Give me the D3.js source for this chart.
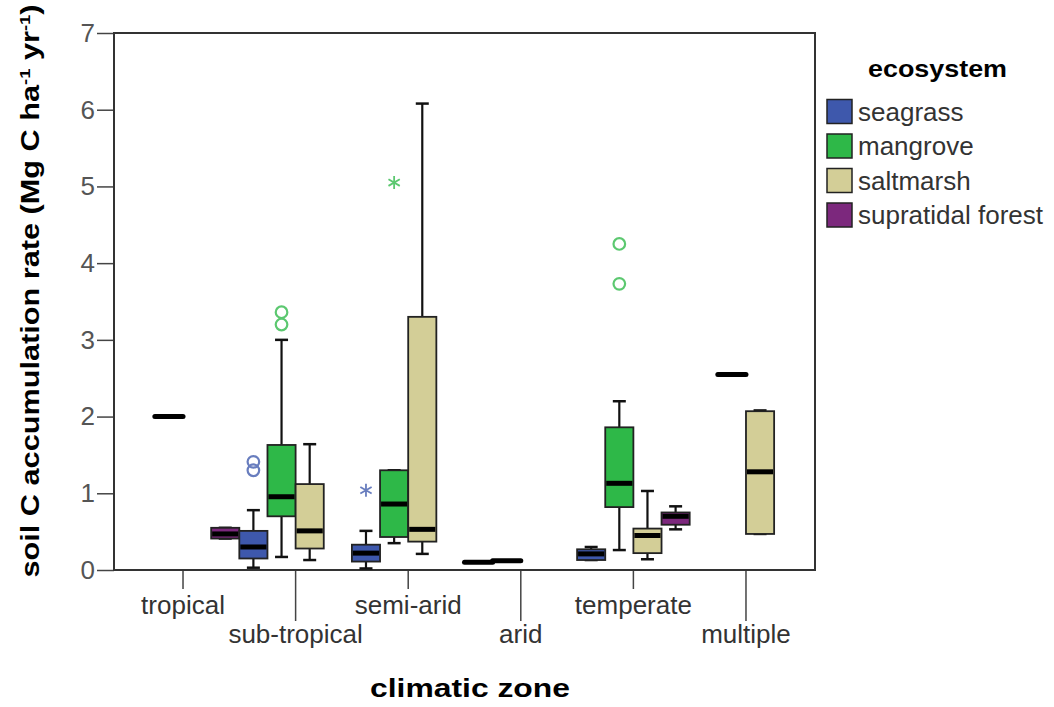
<!DOCTYPE html>
<html>
<head>
<meta charset="utf-8">
<script src="https://cdn.jsdelivr.net/npm/d3@7"></script>
<style>
  body { margin: 0; background: #fff; }
  svg { font-family: "Liberation Sans", Arial, sans-serif; }
</style>
</head>
<body>
<div id="container"></div>
<script>
/* DATA */
const zones = ["tropical", "sub-tropical", "semi-arid", "arid", "temperate", "multiple"];
const ecosystems = ["seagrass", "mangrove", "saltmarsh", "supratidal forest"];
const yTicks = [0, 1, 2, 3, 4, 5, 6, 7];

// box summaries: [zone, ecosystem, min, q1, median, q3, max]
const boxStats = [
  ["tropical", "supratidal forest", 0.41, 0.41, 0.47, 0.55, 0.55],
  ["sub-tropical", "seagrass", 0.03, 0.15, 0.30, 0.51, 0.78],
  ["sub-tropical", "mangrove", 0.17, 0.70, 0.955, 1.63, 3.00],
  ["sub-tropical", "saltmarsh", 0.13, 0.28, 0.51, 1.12, 1.64],
  ["semi-arid", "seagrass", 0.02, 0.11, 0.22, 0.33, 0.51],
  ["semi-arid", "mangrove", 0.35, 0.43, 0.86, 1.30, 1.30],
  ["semi-arid", "saltmarsh", 0.21, 0.37, 0.53, 3.30, 6.08],
  ["temperate", "seagrass", 0.13, 0.13, 0.21, 0.27, 0.30],
  ["temperate", "mangrove", 0.26, 0.82, 1.13, 1.86, 2.20],
  ["temperate", "saltmarsh", 0.14, 0.22, 0.45, 0.54, 1.03],
  ["temperate", "supratidal forest", 0.53, 0.59, 0.70, 0.75, 0.83],
  ["multiple", "saltmarsh", 0.47, 0.47, 1.28, 2.07, 2.08]
];

// groups with a single value: [zone, ecosystem, value]
const singles = [
  ["tropical", "mangrove", 2.00],
  ["arid", "seagrass", 0.10],
  ["arid", "mangrove", 0.12],
  ["multiple", "mangrove", 2.55]
];

// outliers: [zone, ecosystem, value, kind]
const outliers = [
  ["sub-tropical", "seagrass", 1.41, "o"],
  ["sub-tropical", "seagrass", 1.30, "o"],
  ["sub-tropical", "mangrove", 3.36, "o"],
  ["sub-tropical", "mangrove", 3.20, "o"],
  ["semi-arid", "seagrass", 1.04, "*"],
  ["semi-arid", "mangrove", 5.05, "*"],
  ["temperate", "mangrove", 4.25, "o"],
  ["temperate", "mangrove", 3.73, "o"]
];

/* CONSTANTS */
const width = 1054, height = 707;
const plot = { left: 114, right: 815, top: 33, bottom: 570 };

const colorScale = d3.scaleOrdinal()
  .domain(ecosystems)
  .range(["#3e58ac", "#2eb848", "#d3ce97", "#7c287d"]);

const svg = d3.select("#container")
  .append("svg")
  .attr("width", width)
  .attr("height", height);

/* SCALES */
const xScale = d3.scaleBand()
  .domain(zones)
  .range([plot.left, plot.right])
  .paddingInner(0)
  .paddingOuter(0.113);

const xEco = d3.scaleBand()
  .domain(ecosystems)
  .range([0, xScale.bandwidth()]);

const yScale = d3.scaleLinear()
  .domain([0, 7])
  .range([plot.bottom, plot.top]);

const boxX = (z, e) => xScale(z) + xEco(e);
const boxW = xEco.bandwidth();
const capW = 13;

/* AXES */
const yAxis = d3.axisLeft(yScale)
  .tickValues(yTicks)
  .tickSize(17)
  .tickPadding(2)
  .tickFormat(d3.format("d"));

svg.append("g")
  .attr("transform", `translate(${plot.left},0)`)
  .call(yAxis)
  .call(g => g.select(".domain").remove())
  .call(g => g.selectAll(".tick line").attr("stroke", "#444").attr("stroke-width", 1.5))
  .call(g => g.selectAll(".tick text")
    .attr("font-size", "26px")
    .attr("font-family", "Liberation Sans, Arial, sans-serif")
    .attr("fill", "#555"));

const xAxis = d3.axisBottom(xScale)
  .tickSize(0)
  .tickPadding(0);

svg.append("g")
  .attr("transform", `translate(0,${plot.bottom})`)
  .call(xAxis)
  .call(g => g.select(".domain").remove())
  .call(g => g.selectAll(".tick line")
    .attr("stroke", "#444")
    .attr("stroke-width", 1.5)
    .attr("y2", (d, i) => i % 2 === 0 ? 19 : 51))
  .call(g => g.selectAll(".tick text")
    .attr("dy", null)
    .attr("y", (d, i) => i % 2 === 0 ? 44 : 73)
    .attr("font-size", "26px")
    .attr("font-family", "Liberation Sans, Arial, sans-serif")
    .attr("fill", "#333"));

// plot frame
svg.append("rect")
  .attr("x", plot.left)
  .attr("y", plot.top)
  .attr("width", plot.right - plot.left)
  .attr("height", plot.bottom - plot.top)
  .attr("fill", "none")
  .attr("stroke", "#333")
  .attr("stroke-width", 2);

/* BOXES */
const boxes = svg.append("g").selectAll("g.box")
  .data(boxStats)
  .join("g")
  .attr("class", "box");

// whisker
boxes.append("line")
  .attr("x1", d => boxX(d[0], d[1]) + boxW / 2)
  .attr("x2", d => boxX(d[0], d[1]) + boxW / 2)
  .attr("y1", d => yScale(d[2]))
  .attr("y2", d => yScale(d[6]))
  .attr("stroke", "#111")
  .attr("stroke-width", 2.2);

// caps
boxes.selectAll("line.cap")
  .data(d => [[d, d[2]], [d, d[6]]])
  .join("line")
  .attr("class", "cap")
  .attr("x1", ([d]) => boxX(d[0], d[1]) + boxW / 2 - capW / 2)
  .attr("x2", ([d]) => boxX(d[0], d[1]) + boxW / 2 + capW / 2)
  .attr("y1", ([, v]) => yScale(v))
  .attr("y2", ([, v]) => yScale(v))
  .attr("stroke", "#111")
  .attr("stroke-width", 2.5);

boxes.append("rect")
  .attr("x", d => boxX(d[0], d[1]))
  .attr("y", d => yScale(d[5]))
  .attr("width", boxW)
  .attr("height", d => yScale(d[3]) - yScale(d[5]))
  .attr("fill", d => colorScale(d[1]))
  .attr("stroke", "#222")
  .attr("stroke-width", 1.8);

boxes.append("line")
  .attr("x1", d => boxX(d[0], d[1]) + 1)
  .attr("x2", d => boxX(d[0], d[1]) + boxW - 1)
  .attr("y1", d => yScale(d[4]))
  .attr("y2", d => yScale(d[4]))
  .attr("stroke", "#000")
  .attr("stroke-width", 5);

// single value groups
svg.append("g").selectAll("line")
  .data(singles)
  .join("line")
  .attr("x1", d => boxX(d[0], d[1]))
  .attr("x2", d => boxX(d[0], d[1]) + boxW)
  .attr("y1", d => yScale(d[2]))
  .attr("y2", d => yScale(d[2]))
  .attr("stroke", "#000")
  .attr("stroke-width", 5)
  .attr("stroke-linecap", "round");

/* OUTLIERS */
const star = d3.symbol().type(d3.symbolAsterisk).size(120);
const outlierColor = e => d3.interpolateRgb(colorScale(e), "#fff")(0.22);

svg.append("g").selectAll("path")
  .data(outliers)
  .join("path")
  .attr("transform", d => `translate(${boxX(d[0], d[1]) + boxW / 2},${yScale(d[2])})`)
  .attr("d", d => d[3] === "*" ? star() : d3.arc()({ innerRadius: 0, outerRadius: 5.8, startAngle: 0, endAngle: 2 * Math.PI }))
  .attr("fill", "none")
  .attr("stroke", d => outlierColor(d[1]))
  .attr("stroke-width", d => d[3] === "*" ? 1.8 : 2.2);

/* AXIS TITLES */
const yTitle = svg.append("text")
  .attr("transform", `translate(39,291) rotate(-90)`)
  .attr("text-anchor", "middle")
  .attr("font-size", "25px")
  .attr("font-weight", "bold")
  .attr("fill", "#000")
  .attr("textLength", 573)
  .attr("lengthAdjust", "spacingAndGlyphs");

yTitle.append("tspan").text("soil C accumulation rate (Mg C ha");
yTitle.append("tspan").attr("font-size", "15px").attr("baseline-shift", "9").text("-1");
yTitle.append("tspan").text(" yr");
yTitle.append("tspan").attr("font-size", "15px").attr("baseline-shift", "9").text("-1");
yTitle.append("tspan").text(")");

svg.append("text")
  .attr("x", 470)
  .attr("y", 697)
  .attr("text-anchor", "middle")
  .attr("font-size", "25px")
  .attr("font-weight", "bold")
  .attr("textLength", 200)
  .attr("lengthAdjust", "spacingAndGlyphs")
  .text("climatic zone");

/* LEGEND */
svg.append("text")
  .attr("x", 868)
  .attr("y", 77)
  .attr("font-size", "23px")
  .attr("font-weight", "bold")
  .attr("textLength", 139)
  .attr("lengthAdjust", "spacingAndGlyphs")
  .text("ecosystem");

const legend = svg.append("g").selectAll("g")
  .data(ecosystems)
  .join("g")
  .attr("transform", (d, i) => `translate(827,${99.5 + i * 34.5})`);

legend.append("rect")
  .attr("width", 25)
  .attr("height", 24)
  .attr("fill", d => colorScale(d))
  .attr("stroke", "#222")
  .attr("stroke-width", 1.5);

legend.append("text")
  .attr("x", 31)
  .attr("y", 21)
  .attr("font-size", "26px")
  .attr("fill", "#333")
  .text(d => d);
</script>
</body>
</html>
